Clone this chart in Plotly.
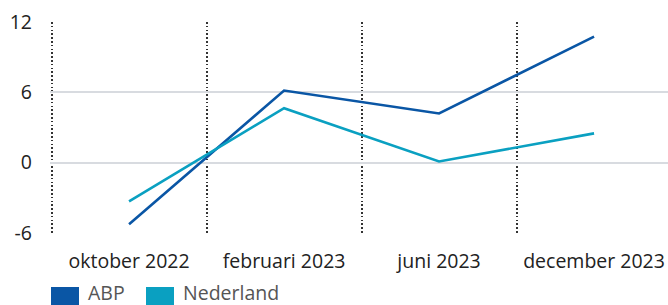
import plotly.graph_objects as go

categories = ["oktober 2022", "februari 2023", "juni 2023", "december 2023"]
abp = [-5.25, 6.15, 4.2, 10.75]
nederland = [-3.3, 4.65, 0.1, 2.5]
series_names = ["ABP", "Nederland"]
series_colors = ["#0a56a5", "#0aa0c1"]
y_ticks = [-6, 0, 6, 12]
y_tick_text = ["-6", "0", "6", "12"]

FONT = "Open Sans"
FS = 19.5

fig = go.Figure()
for name, vals, col in zip(series_names, [abp, nederland], series_colors):
    fig.add_trace(go.Scatter(x=categories, y=vals, mode="lines", name=name,
                             line=dict(color=col, width=2.6), showlegend=False,
                             hoverinfo="skip"))

L, R, T, B = 50, 0, 22, 72
W, H = 668, 305
fig.update_layout(
    width=W, height=H,
    margin=dict(l=L, r=R, t=T, b=B),
    paper_bgcolor="white", plot_bgcolor="white",
    font=dict(family=FONT, size=FS, color="#222222"),
    xaxis=dict(type="category", range=[-0.51, 3.477], tickson="boundaries",
               showgrid=True, gridcolor="#333333", gridwidth=1.6,
               griddash="1.6px,2.2px", ticks="", showline=False, zeroline=False,
               ticklabelstandoff=14, tickfont=dict(size=FS, color="#222222")),
    yaxis=dict(range=[-6, 12], tickvals=y_ticks, ticktext=y_tick_text, showgrid=True,
               gridcolor="#d8dbe0", gridwidth=1.5, zeroline=False, showline=False,
               ticks="", ticklabelstandoff=17, tickfont=dict(size=FS, color="#222222")),
)

# manual legend with square swatches
plot_w = W - L - R
plot_h = H - T - B
def px_x(p):
    return (p - L) / plot_w
def px_y(p):
    return (H - B - p) / plot_h

x0 = 51
for name, col in zip(series_names, series_colors):
    fig.add_shape(type="rect", xref="paper", yref="paper",
                  x0=px_x(x0), x1=px_x(x0 + 28), y0=px_y(306), y1=px_y(287),
                  fillcolor=col, line=dict(width=0), layer="above")
    fig.add_annotation(text=name, xref="paper", yref="paper", x=px_x(x0 + 35),
                       y=px_y(292), xanchor="left", yanchor="middle", showarrow=False,
                       font=dict(family=FONT, size=FS, color="#555555"))
    x0 += 95

fig.write_html("out.html", config={"displayModeBar": False},
               post_script="document.body.style.margin='0px';")
